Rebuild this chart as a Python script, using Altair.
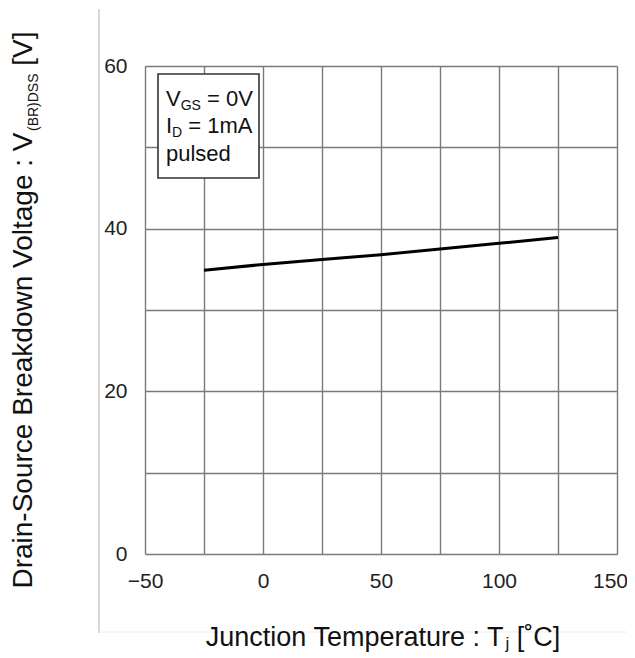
import altair as alt
import pandas as pd

# ---- data ----
temps = [-25, 0, 25, 50, 75, 100, 125]
vbr = [34.9, 35.6, 36.2, 36.8, 37.5, 38.2, 38.9]
x_grid = [-50, -25, 0, 25, 50, 75, 100, 125, 150]
y_grid = [0, 10, 20, 30, 40, 50, 60]

FONT = "Liberation Sans"
PLOT_W, PLOT_H = 472, 488
PAD_L, PAD_T = 137, 58

# Arial / Liberation Sans advance widths (per 1000 em)
AW = {" ": 278, "(": 333, ")": 333, "-": 333, ":": 278, "[": 278, "]": 278, "=": 584,
      "0": 556, "1": 556, "˚": 333, "A": 667, "B": 667, "C": 722, "D": 722, "G": 778,
      "I": 278, "J": 500, "R": 722, "S": 667, "T": 611, "V": 667,
      "a": 556, "c": 500, "d": 556, "e": 556, "g": 556, "i": 222, "j": 222, "k": 500,
      "l": 222, "m": 833, "n": 556, "o": 556, "p": 556, "r": 333, "s": 500, "t": 278,
      "u": 556, "w": 722}


def tw(s, size):
    return sum(AW.get(c, 556) for c in s) * size / 1000.0


one = pd.DataFrame({"a": [0]})


def txt(s, x, y, size, angle=0, color="#111"):
    return alt.Chart(one).mark_text(
        text=s, font=FONT, fontSize=size, align="left", baseline="alphabetic",
        angle=angle, color=color
    ).encode(x=alt.value(x), y=alt.value(y))


def ax(abs_x):
    return abs_x - 145


def ay(abs_y):
    return abs_y - PAD_T - 8


df = pd.DataFrame({"T": temps, "V": vbr})

line = alt.Chart(df).mark_line(color="#000", strokeWidth=3).encode(
    x=alt.X("T:Q", scale=alt.Scale(domain=[-50, 150], nice=False, zero=False),
            axis=alt.Axis(values=x_grid, title=None, ticks=False, domain=False,
                          labelExpr="datum.value % 50 == 0 ? datum.label : ''",
                          labelFont=FONT, labelFontSize=21, labelColor="#222",
                          labelPadding=16, labelFlush=False, labelOverlap=False,
                          labelOffset=alt.ConditionalAxisNumber(
                              condition={"test": "datum.value == 150", "value": -7},
                              value=0),
                          gridColor="#7a7a7a", gridWidth=1.4)),
    y=alt.Y("V:Q", scale=alt.Scale(domain=[0, 60], nice=False),
            axis=alt.Axis(values=y_grid, title=None, ticks=False, domain=False,
                          labelExpr="datum.value % 20 == 0 ? datum.label : ''",
                          labelFont=FONT, labelFontSize=21, labelColor="#222",
                          labelPadding=18, labelOverlap=False,
                          gridColor="#7a7a7a", gridWidth=1.4)),
)

layers = [line]

# condition box
layers.append(alt.Chart(one).mark_rect(fill="white", stroke="#333", strokeWidth=1.6).encode(
    x=alt.value(ax(158)), x2=alt.value(ax(259)), y=alt.value(ay(74)), y2=alt.value(ay(178))))


def run(parts, x0, y0, angle=0):
    """Place text pieces one after another; leading spaces become an advance."""
    out = []
    pos = 0.0
    for s, f, d, dx in parts:
        lead = len(s) - len(s.lstrip(" "))
        pos += tw(" " * lead, f) + dx
        body = s.lstrip(" ")
        if angle == 0:
            out.append(txt(body, x0 + pos, y0 + d, f))
        else:
            out.append(txt(body, x0 + d, y0 - pos, f, angle=angle))
        pos += tw(body, f)
    return out


def total(parts):
    return sum(tw(s, f) + dx for s, f, _, dx in parts)


LF, SF = 22, 14
lx = ax(166)
layers += run([("V", LF, 0, 0), ("GS", SF, 4, 0), (" = 0V", LF, 0, 0)], lx, ay(106))
layers += run([("I", LF, 0, 0), ("D", SF, 4, 0), (" = 1mA", LF, 0, 0)], lx, ay(133))
layers += run([("pulsed", LF, 0, 0)], lx, ay(160.5))

# frame lines
layers.append(alt.Chart(one).mark_rule(color="#b0b0b0", strokeWidth=1).encode(
    x=alt.value(ax(99)), y=alt.value(ay(9)), y2=alt.value(ay(633))))
layers.append(alt.Chart(one).mark_rule(color="#ececec", strokeWidth=1).encode(
    x=alt.value(ax(99)), x2=alt.value(ax(627)), y=alt.value(ay(632))))

# x axis title with subscript
XF, XS = 27, 17
xparts = [("Junction Temperature : T", XF, 0, 0), ("j", XS, 3, -2), (" [˚C]", XF, 0, 0)]
layers += run(xparts, ax(383) - total(xparts) / 2, ay(646))

# y axis title with subscript (rotated)
YF, YS = 28, 14
yparts = [("Drain-Source Breakdown Voltage : V", YF, 0, 0), ("(BR)DSS", YS, 6, 0),
          (" [V]", YF, 0, 0)]
layers += run(yparts, ax(32), ay(310) + total(yparts) / 2, angle=270)

chart = alt.layer(*layers).properties(
    width=PLOT_W, height=PLOT_H,
    padding={"left": PAD_L, "top": PAD_T, "right": 10, "bottom": 100},
    autosize=alt.AutoSizeParams(type="none"),
).configure_view(stroke="#7a7a7a", strokeWidth=1.4).configure(background="white")

chart.save("out.html", embed_options={"renderer": "svg", "actions": False})
